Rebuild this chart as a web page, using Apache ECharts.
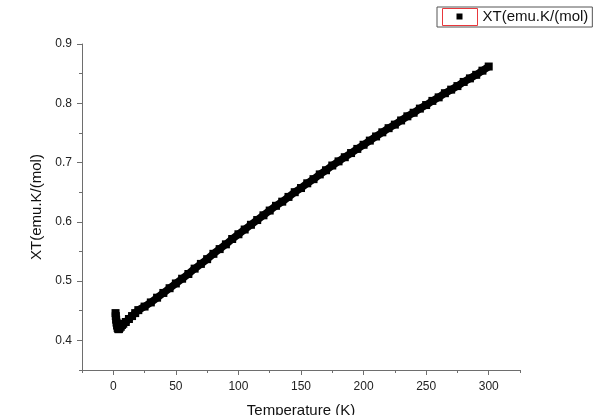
<!DOCTYPE html>
<html>
<head>
<meta charset="utf-8">
<script src="https://cdn.jsdelivr.net/npm/echarts@6/dist/echarts.min.js"></script>
<style>
  html, body { margin: 0; padding: 0; background: #fff; }
  #chart { width: 600px; height: 415px; }
</style>
</head>
<body>
<div id="chart"></div>
<script>
// XT vs temperature
const temps = [1.8, 2, 2.3, 2.6, 3, 3.5, 4, 4.5, 5, 6, 7, 8, 10, 12.5, 15, 17.5, 20,
  25, 30, 35, 40, 45, 50, 55, 60, 65, 70, 75, 80, 85, 90, 95, 100,
  105, 110, 115, 120, 125, 130, 135, 140, 145, 150, 155, 160, 165, 170, 175, 180,
  185, 190, 195, 200, 205, 210, 215, 220, 225, 230, 235, 240, 245, 250, 255, 260,
  265, 270, 275, 280, 285, 290, 295, 300]
const xt = [0.446, 0.441, 0.435, 0.430, 0.425, 0.421, 0.419, 0.419, 0.421, 0.423, 0.426, 0.428, 0.431, 0.436, 0.441, 0.446, 0.451,
  0.457, 0.464, 0.472, 0.480, 0.488, 0.496, 0.504, 0.512, 0.521, 0.529, 0.537, 0.546, 0.554, 0.562, 0.571, 0.579,
  0.587, 0.595, 0.603, 0.611, 0.619, 0.627, 0.634, 0.642, 0.650, 0.657, 0.665, 0.672, 0.680, 0.687, 0.695, 0.702,
  0.709, 0.716, 0.723, 0.730, 0.737, 0.744, 0.751, 0.758, 0.764, 0.771, 0.778, 0.784, 0.791, 0.797, 0.804, 0.810,
  0.817, 0.823, 0.829, 0.836, 0.842, 0.848, 0.855, 0.862]

const xMajor = [0, 50, 100, 150, 200, 250, 300]
const xMinor = [-25, 25, 75, 125, 175, 225, 275, 325]
const yMajor = [0.4, 0.5, 0.6, 0.7, 0.8, 0.9]
const yMinor = [0.35, 0.45, 0.55, 0.65, 0.75, 0.85]

const seriesName = 'XT(emu.K/(mol)'
const font = "'Liberation Sans', Arial, sans-serif"
const axisGray = '#6e6e6e'

const chart = echarts.init(document.getElementById('chart'))

const xBase = {
  type: 'value',
  min: -25,
  max: 325,
  position: 'bottom',
  splitLine: { show: false }
}
const yBase = {
  type: 'value',
  min: 0.35,
  max: 0.9,
  position: 'left',
  splitLine: { show: false }
}

chart.setOption({
  animation: false,
  backgroundColor: '#fff',
  grid: { left: 82, right: 80, top: 44, bottom: 45, outerBoundsMode: 'none', containLabel: false },
  legend: {
    data: [seriesName],
    left: 437,
    top: 7,
    padding: [1, 4, 1, 5],
    borderColor: '#555',
    borderWidth: 1,
    icon: 'rect',
    itemWidth: 35,
    itemHeight: 17,
    itemGap: 5,
    itemStyle: { color: '#fff', borderColor: '#e8383d', borderWidth: 1 },
    textStyle: { fontFamily: font, fontSize: 15, color: '#111' }
  },
  graphic: [
    { type: 'rect', z: 100, zlevel: 1, shape: { x: 456.5, y: 13.5, width: 6, height: 6 }, style: { fill: '#000' } }
  ],
  xAxis: [
    {
      ...xBase,
      name: 'Temperature (K)',
      nameLocation: 'middle',
      nameGap: 33,
      nameTextStyle: { fontFamily: font, fontSize: 15, color: '#111' },
      axisLine: { onZero: false, lineStyle: { color: axisGray, width: 1 } },
      axisTick: { inside: false, length: 5, customValues: xMajor, lineStyle: { color: axisGray } },
      axisLabel: { customValues: xMajor, margin: 11, fontFamily: font, fontSize: 12, color: '#222' }
    },
    {
      ...xBase,
      axisLine: { show: false, onZero: false },
      axisTick: { inside: false, length: 3, customValues: xMinor, lineStyle: { color: axisGray } },
      axisLabel: { show: false }
    }
  ],
  yAxis: [
    {
      ...yBase,
      name: seriesName,
      nameLocation: 'middle',
      nameGap: 37,
      nameTextStyle: { fontFamily: font, fontSize: 15, color: '#111' },
      axisLine: { show: true, onZero: false, lineStyle: { color: axisGray, width: 1 } },
      axisTick: { show: true, inside: false, length: 5, customValues: yMajor, lineStyle: { color: axisGray } },
      axisLabel: {
        customValues: yMajor,
        margin: 10,
        fontFamily: font,
        fontSize: 12,
        color: '#222',
        formatter: v => v.toFixed(1)
      }
    },
    {
      ...yBase,
      axisLine: { show: false, onZero: false },
      axisTick: { show: true, inside: false, length: 3, customValues: yMinor, lineStyle: { color: axisGray } },
      axisLabel: { show: false }
    }
  ],
  series: [
    {
      name: seriesName,
      type: 'line',
      xAxisIndex: 0,
      yAxisIndex: 0,
      data: temps.map((t, i) => [t, xt[i]]),
      symbol: 'rect',
      symbolSize: 8,
      showAllSymbol: true,
      itemStyle: { color: '#000' },
      lineStyle: { color: '#000', width: 7.5 }
    }
  ]
})
</script>
</body>
</html>
